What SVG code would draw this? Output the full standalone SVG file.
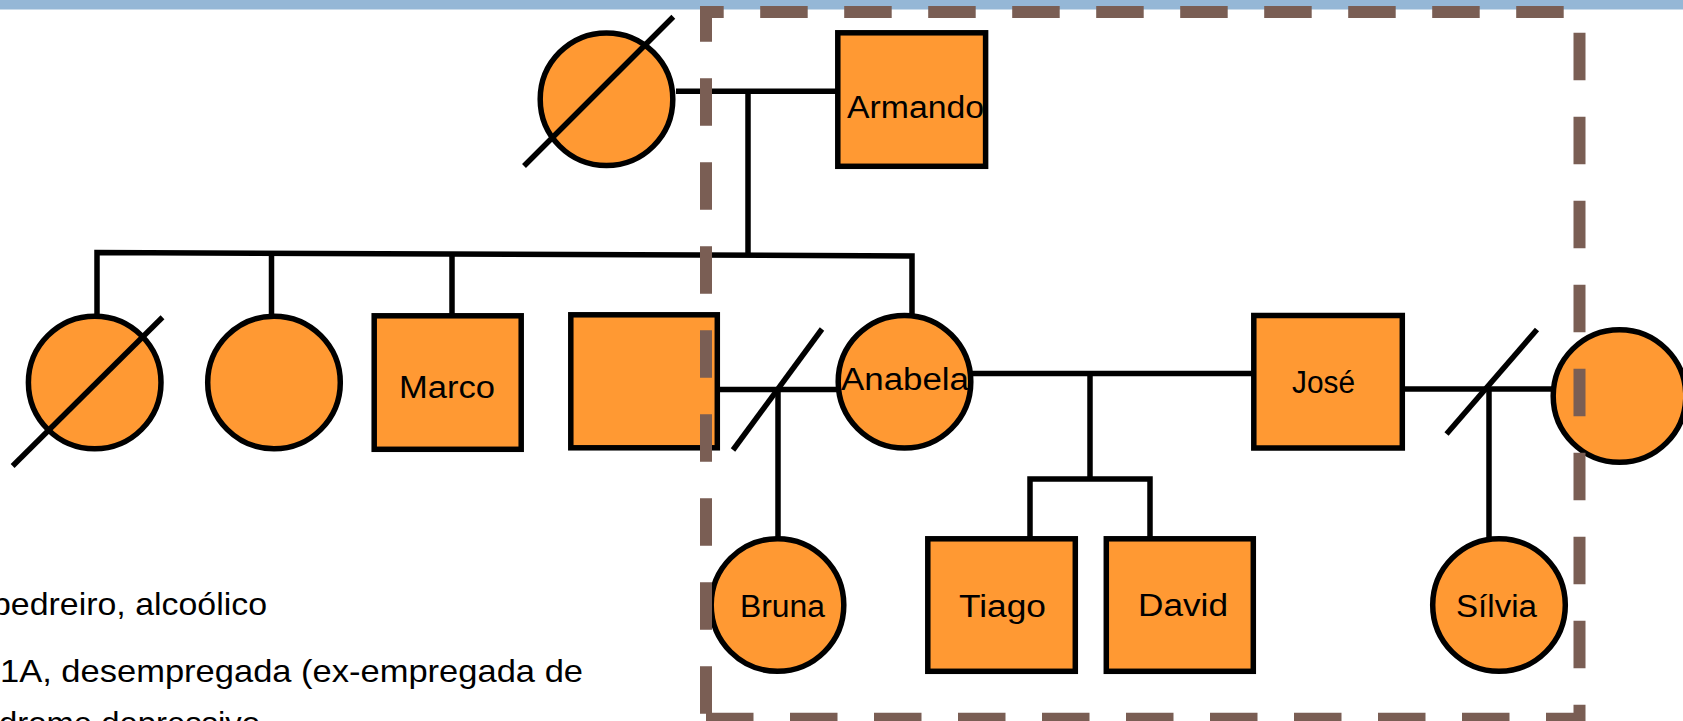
<svg xmlns="http://www.w3.org/2000/svg" width="1683" height="721" viewBox="0 0 1683 721">
<style>
.f{fill:#FF9933;stroke:#000;stroke-width:5.5}
.c{fill:none;stroke:#000;stroke-width:5.5;stroke-linejoin:miter}
.s{stroke:#000;stroke-width:5.5}
.t{font-family:"Liberation Sans",Arial,sans-serif;font-size:31px;fill:#000}
.b{font-family:"Liberation Sans",Arial,sans-serif;font-size:32px;fill:#000}
</style>
<rect x="0" y="0" width="1683" height="721" fill="#fff"/>
<rect x="0" y="0" width="1683" height="9.5" fill="#95B7D6"/>

<g id="connectors">
<line class="c" x1="676" y1="91.3" x2="836" y2="91.3"/>
<line class="c" x1="748" y1="91.3" x2="748" y2="254"/>
<path class="c" d="M97,315 V252.5 L912,256 V314"/>
<line class="c" x1="271.5" y1="253.5" x2="271.5" y2="315"/>
<line class="c" x1="452" y1="254.5" x2="452" y2="316"/>
<line class="c" x1="719" y1="389.5" x2="839" y2="389.5"/>
<line class="s" x1="733" y1="450" x2="822" y2="329"/>
<line class="c" x1="778" y1="389.5" x2="778" y2="539"/>
<line class="c" x1="970" y1="373.5" x2="1254" y2="373.5"/>
<line class="c" x1="1090" y1="373.5" x2="1090" y2="479"/>
<path class="c" d="M1030,539 V479 H1150 V539"/>
<line class="c" x1="1403" y1="389" x2="1553" y2="389"/>
<line class="s" x1="1446.5" y1="434" x2="1537" y2="329.5"/>
<line class="c" x1="1489" y1="389" x2="1489" y2="539"/>
</g>

<g id="node-grandmother">
<circle class="f" cx="606.5" cy="99.2" r="66.3"/>
<line class="s" x1="524" y1="166" x2="673.3" y2="16.7"/>
</g>
<g id="node-armando">
<rect class="f" x="837.8" y="32.8" width="147.8" height="133.5"/>
<text class="t" x="847" y="118.3" textLength="137" lengthAdjust="spacingAndGlyphs">Armando</text>
</g>

<g id="node-child1">
<circle class="f" cx="94.7" cy="382.5" r="66.3"/>
<line class="s" x1="12.6" y1="466" x2="162.5" y2="317.3"/>
</g>
<g id="node-child2">
<circle class="f" cx="274" cy="382.5" r="66.3"/>
</g>
<g id="node-marco">
<rect class="f" x="374.2" y="315.8" width="147" height="133.5"/>
<text class="t" x="399" y="398.3" textLength="96" lengthAdjust="spacingAndGlyphs">Marco</text>
</g>
<g id="node-child4">
<rect class="f" x="570.8" y="314.8" width="146.5" height="133"/>
</g>
<g id="node-anabela">
<circle class="f" cx="904.5" cy="381.7" r="66.3"/>
<text class="t" x="841" y="390" textLength="128" lengthAdjust="spacingAndGlyphs">Anabela</text>
</g>
<g id="node-jose">
<rect class="f" x="1253.8" y="315.5" width="148.5" height="132.5"/>
<text class="t" x="1292" y="393.3" textLength="63" lengthAdjust="spacingAndGlyphs">José</text>
</g>
<g id="node-partner">
<circle class="f" cx="1619.5" cy="396" r="66.3"/>
</g>
<g id="node-bruna">
<circle class="f" cx="777.5" cy="605" r="66.3"/>
<text class="t" x="740" y="616.7" textLength="85" lengthAdjust="spacingAndGlyphs">Bruna</text>
</g>
<g id="node-tiago">
<rect class="f" x="927.8" y="538.8" width="147.5" height="132.5"/>
<text class="t" x="959" y="616.7" textLength="87" lengthAdjust="spacingAndGlyphs">Tiago</text>
</g>
<g id="node-david">
<rect class="f" x="1106.3" y="538.8" width="147" height="132.5"/>
<text class="t" x="1138" y="616" textLength="90" lengthAdjust="spacingAndGlyphs">David</text>
</g>
<g id="node-silvia">
<circle class="f" cx="1499" cy="605" r="66.3"/>
<text class="t" x="1456" y="616.7" textLength="81" lengthAdjust="spacingAndGlyphs">Sílvia</text>
</g>

<g id="boundary">
<path d="M706,718.7 H1579.5 V12 H706 Z" fill="none" stroke="#7A5E54" stroke-width="12" stroke-dasharray="47.5 36.5" stroke-linejoin="miter"/>
</g>

<g id="notes">
<text class="b" x="-8" y="615" textLength="275" lengthAdjust="spacingAndGlyphs">pedreiro, alcoólico</text>
<text class="b" x="0" y="681.7" textLength="583" lengthAdjust="spacingAndGlyphs">1A, desempregada (ex-empregada de</text>
<text class="b" x="-1" y="733.5" textLength="261" lengthAdjust="spacingAndGlyphs">drome depressivo</text>
</g>
</svg>
